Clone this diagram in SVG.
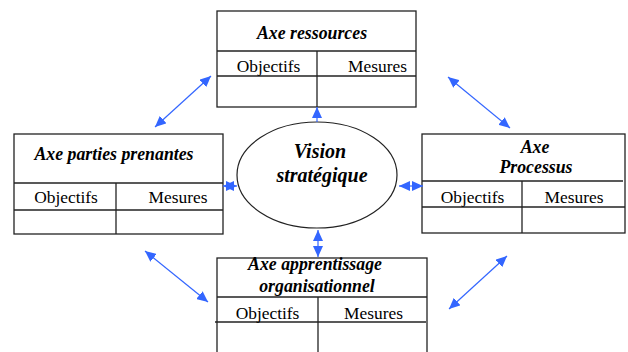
<svg xmlns="http://www.w3.org/2000/svg" width="628" height="352" viewBox="0 0 628 352">
<style>
.box{fill:#fff;stroke:#222;stroke-width:1.3}
.ln{stroke:#222;stroke-width:1.3;fill:none}
.t{font-family:"Liberation Serif",serif;font-size:17.8px;font-weight:bold;font-style:italic;text-anchor:middle;fill:#000}
.c{font-family:"Liberation Serif",serif;font-size:17.4px;text-anchor:middle;fill:#000}
.v{font-family:"Liberation Serif",serif;font-size:20px;font-weight:bold;font-style:italic;text-anchor:middle;fill:#000}
.ar{stroke:#3366ff;stroke-width:1.2;fill:none}
</style>
<defs>
<marker id="ah" markerUnits="userSpaceOnUse" markerWidth="12" markerHeight="10" refX="11" refY="5" orient="auto-start-reverse">
<path d="M0,0 L11,5 L0,10 Z" fill="#3366ff"/>
</marker>
</defs>
<rect width="628" height="352" fill="#fff"/>
<g id="ressources">
<rect class="box" x="217" y="11" width="199" height="96"/>
<line class="ln" x1="217" y1="51" x2="416" y2="51"/>
<line class="ln" x1="217" y1="76" x2="416" y2="76"/>
<line class="ln" x1="317" y1="51" x2="317" y2="107"/>
<text class="t" x="312" y="39">Axe ressources</text>
<text class="c" x="268.5" y="72">Objectifs</text>
<text class="c" x="377.5" y="72">Mesures</text>
</g>
<g id="parties">
<rect class="box" x="14" y="134" width="209" height="100"/>
<line class="ln" x1="14" y1="183" x2="223" y2="183"/>
<line class="ln" x1="14" y1="210" x2="223" y2="210"/>
<line class="ln" x1="116" y1="183" x2="116" y2="234"/>
<text class="t" x="114" y="160">Axe parties prenantes</text>
<text class="c" x="66" y="203">Objectifs</text>
<text class="c" x="178" y="203">Mesures</text>
</g>
<g id="processus">
<rect class="box" x="422" y="134" width="203" height="99"/>
<line class="ln" x1="422" y1="181" x2="623" y2="181"/>
<line class="ln" x1="422" y1="207" x2="625" y2="207"/>
<line class="ln" x1="522" y1="181" x2="522" y2="233"/>
<text class="t" x="535" y="153">Axe</text>
<text class="t" x="536" y="173">Processus</text>
<text class="c" x="472.5" y="203">Objectifs</text>
<text class="c" x="574" y="203">Mesures</text>
</g>
<g id="apprentissage">
<rect class="box" x="217" y="258" width="210" height="100"/>
<line class="ln" x1="217" y1="297" x2="427" y2="297"/>
<line class="ln" x1="215" y1="322" x2="426" y2="322"/>
<line class="ln" x1="318" y1="297" x2="318" y2="352"/>
<text class="t" x="315" y="270">Axe apprentissage</text>
<text class="t" x="317" y="292">organisationnel</text>
<text class="c" x="267.5" y="319">Objectifs</text>
<text class="c" x="373.5" y="319">Mesures</text>
</g>
<g id="vision">
<ellipse cx="317" cy="175" rx="80" ry="53" fill="#fff" stroke="#222" stroke-width="1.2"/>
<text class="v" x="320" y="158">Vision</text>
<text class="v" x="322" y="182">stratégique</text>
</g>
<g id="connectors">
<line class="ar" x1="155" y1="127" x2="211" y2="76" marker-start="url(#ah)" marker-end="url(#ah)"/>
<line class="ar" x1="448" y1="77" x2="510" y2="128" marker-start="url(#ah)" marker-end="url(#ah)"/>
<line class="ar" x1="145" y1="251" x2="208" y2="302" marker-start="url(#ah)" marker-end="url(#ah)"/>
<line class="ar" x1="507" y1="256" x2="449" y2="309" marker-start="url(#ah)" marker-end="url(#ah)"/>
<line class="ar" x1="317" y1="122" x2="317" y2="107" marker-end="url(#ah)"/>
<line class="ar" x1="318" y1="230" x2="318" y2="257" marker-start="url(#ah)" marker-end="url(#ah)"/>
<line class="ar" x1="223" y1="186" x2="237" y2="186" marker-start="url(#ah)" marker-end="url(#ah)"/>
<line class="ar" x1="399" y1="186" x2="423" y2="186" marker-start="url(#ah)" marker-end="url(#ah)"/>
</g>
</svg>
